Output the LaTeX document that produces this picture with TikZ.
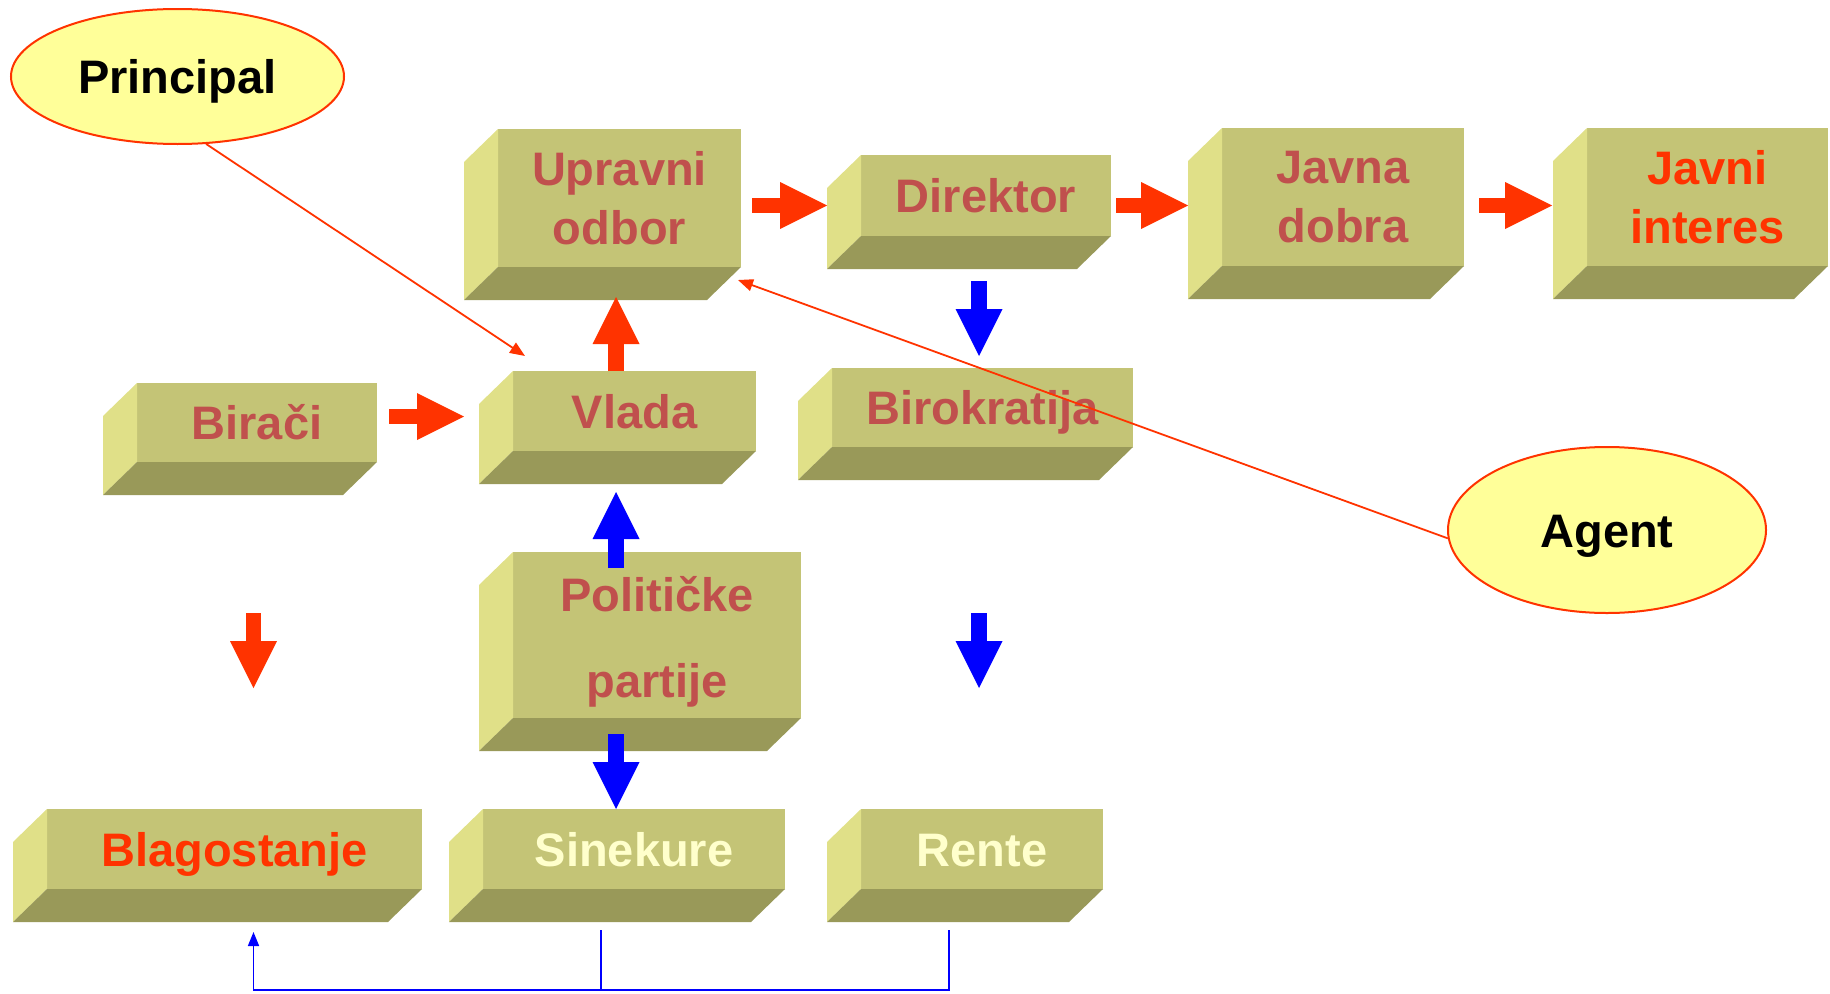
\documentclass[tikz,border=0pt]{standalone}
\usepackage{fontspec}
\setmainfont{Liberation Sans}
\usetikzlibrary{shapes.geometric,arrows.meta}
\definecolor{boxfront}{RGB}{196,196,118}
\definecolor{boxleft}{RGB}{224,224,136}
\definecolor{boxbottom}{RGB}{153,153,89}
\definecolor{boxtext}{RGB}{192,80,77}
\definecolor{redorange}{RGB}{255,51,0}
\definecolor{paleyellow}{RGB}{255,255,153}
\definecolor{creamtext}{RGB}{255,255,204}
\definecolor{pureblue}{RGB}{0,0,255}

\begin{document}
\begin{tikzpicture}[x=1pt, y=-1pt]
    \tikzstyle{block} = [rectangle, fill=boxfront, inner sep=0pt, outer sep=0pt, align=center, text=boxtext, font=\fontsize{47}{59}\selectfont\bfseries]
    \tikzstyle{oneline} = [text height=34pt, text depth=0pt]
    \tikzstyle{role} = [ellipse, draw=redorange, line width=2pt, fill=paleyellow, inner sep=0pt, font=\fontsize{47}{57}\selectfont\bfseries]
    \tikzstyle{redflow} = [draw=redorange, line width=15.5pt, -{Triangle[length=47pt, width=47pt, line width=0pt]}]
    \tikzstyle{blueflow} = [draw=pureblue, line width=15.5pt, -{Triangle[length=47pt, width=47pt, line width=0pt]}]
    \tikzstyle{pointer} = [draw=redorange, line width=1.8pt, -{Triangle[length=15pt, width=12pt]}]
    \tikzstyle{feedback} = [draw=pureblue, line width=1.6pt]
    \useasboundingbox (0,0) rectangle (1830,993);

    % Top row
    \node [block, minimum width=243pt, minimum height=138pt] (upravni) at (619.5,198) {Upravni\\odbor};
    \node [block, oneline, minimum width=250pt, minimum height=81pt] (direktor) at (986,195.5) {Direktor};
    \node [block, minimum width=242pt, minimum height=138pt] (javnadobra) at (1343,197) {Javna\\dobra};
    \node [block, minimum width=241pt, minimum height=138pt, text=redorange] (javniinteres) at (1707.5,197) {Javni\\interes};

    % Middle row
    \node [block, oneline, minimum width=240pt, minimum height=79pt] (biraci) at (257,422.5) {Birači};
    \node [block, oneline, minimum width=243pt, minimum height=80pt] (vlada) at (634.5,411) {Vlada};
    \node [block, oneline, minimum width=301pt, minimum height=79pt] (birokratija) at (982.5,407.5) {Birokratija};
    \node [block, minimum width=288pt, minimum height=166pt, text height=134pt, text depth=10pt, font=\fontsize{47}{86}\selectfont\bfseries] (politicke) at (657,635) {Političke\\partije};

    % Bottom row
    \node [block, oneline, minimum width=375pt, minimum height=80pt, text=redorange] (blagostanje) at (234.5,849) {Blagostanje};
    \node [block, oneline, minimum width=302pt, minimum height=80pt, text=creamtext] (sinekure) at (634,849) {Sinekure};
    \node [block, oneline, minimum width=242pt, minimum height=80pt, text=creamtext] (rente) at (982,849) {Rente};

    % Side faces of the boxes
    \foreach \n in {upravni,direktor,javnadobra,javniinteres,biraci,vlada,birokratija,politicke,blagostanje,sinekure,rente}{
        \fill [boxleft] (\n.north west) -- ++(-34,33) -- ([shift={(-34,33)}]\n.south west) -- (\n.south west) -- cycle;
        \fill [boxbottom] (\n.south west) -- (\n.south east) -- ++(-34,33) -- ([shift={(-34,33)}]\n.south west) -- cycle;
    }

    % Principal and agent
    \node [role, oneline, minimum width=333pt, minimum height=135pt] (principal) at (177.5,76.5) {Principal};
    \node [role, oneline, minimum width=318pt, minimum height=166pt] (agent) at (1607,530) {Agent};

    % Flows
    \draw [redflow] ([shift={(11,7.5)}]upravni.east) -- ([shift={(-34,10)}]direktor.west);
    \draw [redflow] ([shift={(5,10)}]direktor.east) -- ([shift={(-34,8.5)}]javnadobra.west);
    \draw [redflow] ([shift={(15,8.5)}]javnadobra.east) -- ([shift={(-35,8.5)}]javniinteres.west);
    \draw [redflow] ([shift={(12,-6)}]biraci.east) -- ([shift={(-49,5.5)}]vlada.west);
    \draw [redflow] ([shift={(-18.5,0)}]vlada.north) -- ([shift={(-3.5,30)}]upravni.south);
    \draw [redflow] ([shift={(-3.5,151)}]biraci.south) -- ([shift={(19,-121)}]blagostanje.north);
    \draw [blueflow] ([shift={(-7,45)}]direktor.south) -- ([shift={(-3.5,-12)}]birokratija.north);
    \draw [blueflow] ([shift={(-41,16)}]politicke.north) -- ([shift={(-18.5,41)}]vlada.south);
    \draw [blueflow] ([shift={(-41,16)}]politicke.south) -- ([shift={(-18,0)}]sinekure.north);
    \draw [blueflow] ([shift={(-3.5,166)}]birokratija.south) -- ([shift={(-3,-121)}]rente.north);

    % Feedback to welfare
    \draw [feedback] ([shift={(-33,41)}]sinekure.south) -- ++(0,60);
    \draw [feedback, -{Triangle[length=14pt, width=11pt]}] ([shift={(-33,41)}]rente.south) -- ++(0,60) -| ([shift={(19,43)}]blagostanje.south);

    % Pointers
    \draw [pointer] (principal.-67) -- ([shift={(12,-15)}]vlada.north west);
    \draw [pointer] (agent.183) -- ([shift={(-3,13)}]upravni.south east);
\end{tikzpicture}
\end{document}
